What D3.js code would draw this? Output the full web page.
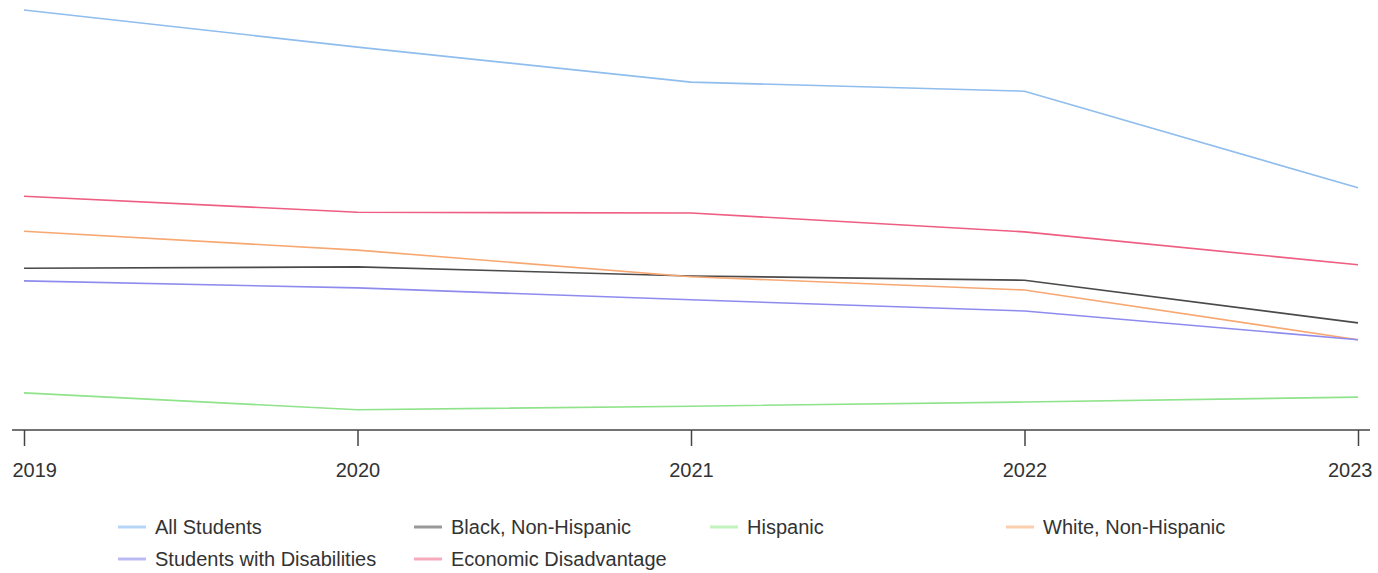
<!DOCTYPE html>
<html><head><meta charset="utf-8">
<script src="https://cdn.jsdelivr.net/npm/d3@7"></script>
<style>body{margin:0;background:#fff;font-family:"Liberation Sans",Arial,sans-serif;}</style>
</head><body>
<svg id="c" width="1378" height="573"></svg>
<script>
const years = ["2019","2020","2021","2022","2023"];
const seriesNames = ["All Students","Black, Non-Hispanic","Hispanic","White, Non-Hispanic","Students with Disabilities","Economic Disadvantage"];
const allStudents = [60.0,54.7,49.7,48.4,34.6];
const blackNonHispanic = [23.1,23.3,22.0,21.4,15.3];
const hispanic = [5.3,2.9,3.4,4.0,4.7];
const whiteNonHispanic = [28.4,25.7,21.9,20.0,12.9];
const studentsWithDisabilities = [21.3,20.3,18.6,17.0,12.9];
const economicDisadvantage = [33.4,31.1,31.0,28.3,23.6];
const seriesValues = [allStudents,blackNonHispanic,hispanic,whiteNonHispanic,studentsWithDisabilities,economicDisadvantage];
const colors = ["#8fbdee","#4a4a4a","#8fe38a","#f7a872","#8f8bee","#ee5d82"];
const swatchColors = ["#b6d6f6","#999999","#c2f2bd","#fbcfae","#bcbaf5","#f7aabd"];

const svg = d3.select("#c");
const x = d3.scalePoint().domain(years).range([24,1358]);
const y = d3.scaleLinear().domain([0,60]).range([430,10]);

// axis
const ax = svg.append("g").attr("transform","translate(0,430)");
ax.append("line").attr("x1",12).attr("x2",1370).attr("stroke","#444").attr("stroke-width",1.5);
const xa = d3.axisBottom(x).tickSize(16).tickPadding(14);
const g = ax.append("g").call(xa);
g.select(".domain").remove();
g.selectAll(".tick line").attr("stroke","#444").attr("stroke-width",1.5);
g.selectAll(".tick text").attr("font-size",20).attr("fill","#333")
  .attr("font-family","Liberation Sans, Arial, sans-serif")
  .attr("dy","0.85em")
  .attr("text-anchor",(d,i)=> i===0 ? "start" : (i===years.length-1 ? "end" : "middle"))
  .attr("x",(d,i)=> i===0 ? -12 : (i===years.length-1 ? 14 : 0));

const line = d3.line().x((d,i)=>x(years[i])).y(d=>y(d));
seriesValues.forEach((vals,i)=>{
  svg.append("path").datum(vals).attr("d",line).attr("fill","none")
    .attr("stroke",colors[i]).attr("stroke-width",1.6);
});

// legend
const leg = svg.append("g");
seriesNames.forEach((n,i)=>{
  const col = i%4, row = Math.floor(i/4);
  const lx = 118 + col*296, ly = 527 + row*32;
  leg.append("line").attr("x1",lx).attr("x2",lx+28).attr("y1",ly).attr("y2",ly)
    .attr("stroke",swatchColors[i]).attr("stroke-width",3);
  leg.append("text").attr("x",lx+37).attr("y",ly+7).attr("font-size",20)
    .attr("fill","#333").text(n);
});
</script>
</body></html>
